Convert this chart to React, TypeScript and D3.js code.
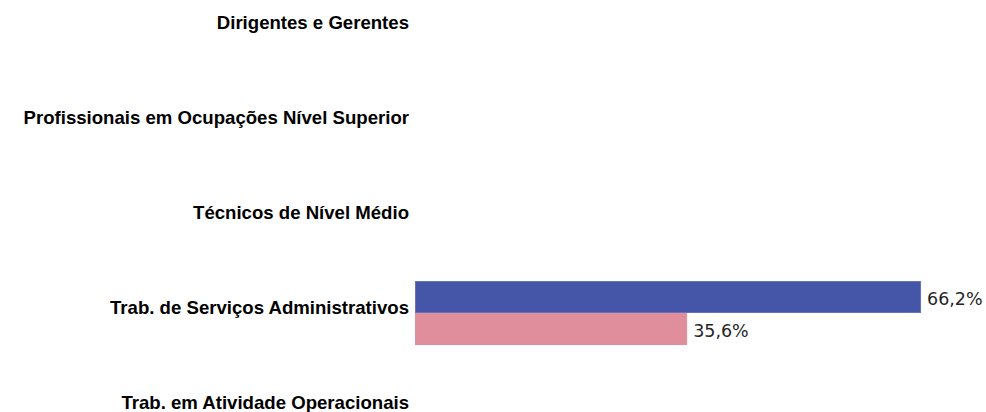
import React from "react";
import * as d3 from "d3";

const categories = [
  "Dirigentes e Gerentes",
  "Profissionais em Ocupações Nível Superior",
  "Técnicos de Nível Médio",
  "Trab. de Serviços Administrativos",
  "Trab. em Atividade Operacionais",
];
const series1: (number | null)[] = [null, null, null, 66.2, null];
const series2: (number | null)[] = [null, null, null, 35.6, null];
const seriesColors = ["#4556A8", "#E08E9B"];
const seriesStroke = ["#6673BC", "#E08E9B"];

const W = 986;
const H = 412;

export default function App() {
  const y = d3.scaleBand<string>().domain(categories).range([-19.5, 455.5]).paddingInner(0).paddingOuter(0);
  const x = d3.scaleLinear().domain([0, 100]).range([415, 415 + 764.4]);
  const barH = 32;
  const all = [series1, series2];
  const fmt = (v: number) => v.toFixed(1).replace(".", ",") + "%";
  return (
    <svg width={W} height={H} style={{ position: "absolute", left: 0, top: 0, background: "#fff" }}>
      {categories.map((c, i) => {
        const cy = (y(c) as number) + y.bandwidth() / 2;
        return (
          <g key={c}>
            <text
              x={409}
              y={cy + 1}
              textAnchor="end"
              style={{ fontFamily: "'Liberation Sans', Arial, sans-serif", fontWeight: "bold", fontSize: "18.6px" }}
              fill="#000"
            >
              {c}
            </text>
            {all.map((s, k) => {
              const v = s[i];
              if (v == null) return null;
              const top = cy - barH + k * barH;
              return (
                <g key={k}>
                  <rect
                    x={x(0) + 0.5}
                    y={top + 0.5}
                    width={x(v) - x(0) - 1}
                    height={barH - 1}
                    fill={seriesColors[k]}
                    stroke={seriesStroke[k]}
                    strokeWidth={1}
                  />
                  <text
                    x={x(v) + 6}
                    y={top + barH / 2 + 8}
                    style={{ fontFamily: "'DejaVu Sans', sans-serif", fontSize: "17.5px" }}
                    fill="#262626"
                  >
                    {fmt(v)}
                  </text>
                </g>
              );
            })}
          </g>
        );
      })}
    </svg>
  );
}
